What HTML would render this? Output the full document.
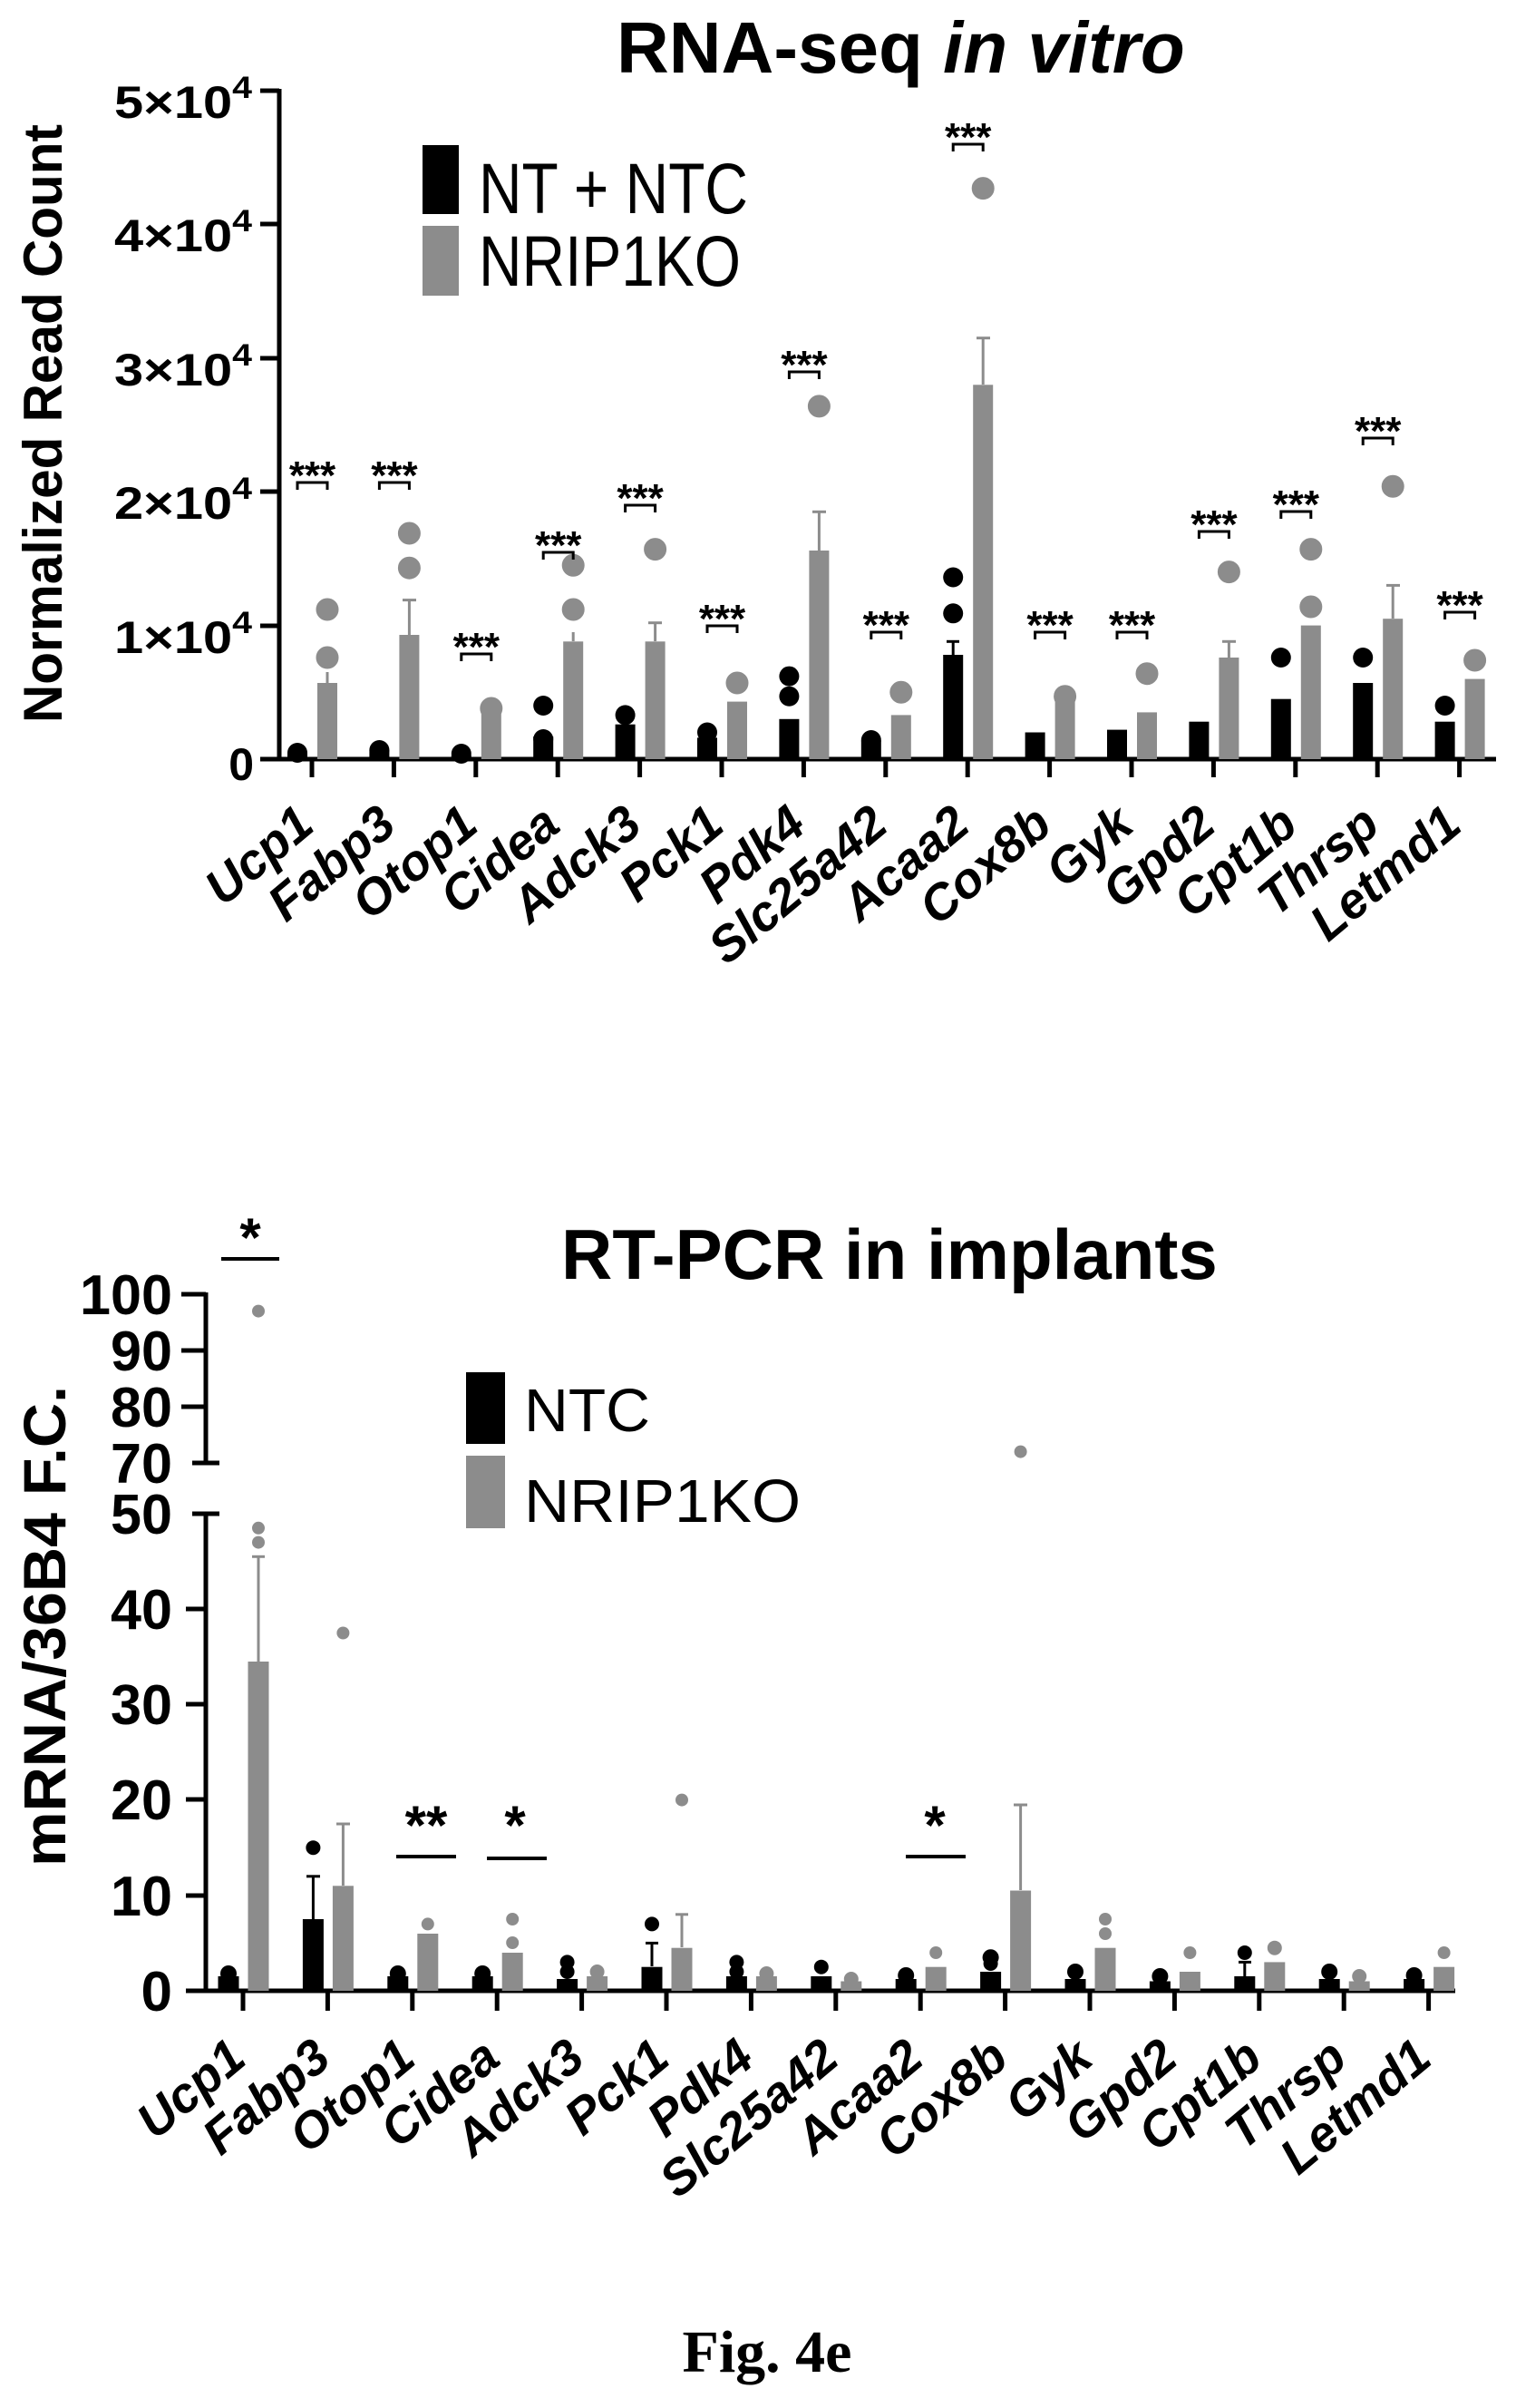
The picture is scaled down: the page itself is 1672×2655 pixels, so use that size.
<!DOCTYPE html>
<html><head><meta charset="utf-8"><style>
html,body{margin:0;padding:0;background:#fff;}
svg{display:block;}
text{font-family:"Liberation Sans",Arial,sans-serif;}
.b{font-weight:bold;}
.xl{font-weight:bold;font-style:italic;font-size:55px;text-anchor:end;}
.tk{font-weight:bold;font-size:50px;text-anchor:end;}
.tk2{font-weight:bold;font-size:62px;text-anchor:end;}
.st{font-weight:bold;font-size:44px;text-anchor:middle;}
.st2{font-weight:bold;font-size:60px;text-anchor:middle;}
</style></head><body>
<svg width="1672" height="2655" viewBox="0 0 1672 2655" xmlns="http://www.w3.org/2000/svg">
<rect width="1672" height="2655" fill="#fff"/>

<!-- ================= TOP CHART ================= -->
<text x="680" y="80" class="b" font-size="80">RNA-seq <tspan font-style="italic">in vitro</tspan></text>
<text transform="translate(68,467) rotate(-90)" class="b" font-size="60" text-anchor="middle" textLength="660" lengthAdjust="spacingAndGlyphs">Normalized Read Count</text>

<!-- y axis -->
<g stroke="#000" stroke-width="5" fill="none">
<line x1="308" y1="98" x2="308" y2="839"/>
<line x1="287" y1="100" x2="308" y2="100"/>
<line x1="287" y1="247" x2="308" y2="247"/>
<line x1="287" y1="395" x2="308" y2="395"/>
<line x1="287" y1="542" x2="308" y2="542"/>
<line x1="287" y1="690" x2="308" y2="690"/>
<line x1="287" y1="837" x2="1650" y2="837"/>
</g>
<g>
<text x="278" y="130" class="tk" textLength="152" lengthAdjust="spacingAndGlyphs">5×10<tspan dy="-22" font-size="34">4</tspan></text>
<text x="278" y="277" class="tk" textLength="152" lengthAdjust="spacingAndGlyphs">4×10<tspan dy="-22" font-size="34">4</tspan></text>
<text x="278" y="425" class="tk" textLength="152" lengthAdjust="spacingAndGlyphs">3×10<tspan dy="-22" font-size="34">4</tspan></text>
<text x="278" y="572" class="tk" textLength="152" lengthAdjust="spacingAndGlyphs">2×10<tspan dy="-22" font-size="34">4</tspan></text>
<text x="278" y="720" class="tk" textLength="152" lengthAdjust="spacingAndGlyphs">1×10<tspan dy="-22" font-size="34">4</tspan></text>
<text x="280" y="860" class="tk">0</text>
</g>
<!-- x ticks -->
<g stroke="#000" stroke-width="5">
<line x1="344" y1="837" x2="344" y2="857"/><line x1="434.4" y1="837" x2="434.4" y2="857"/><line x1="524.8" y1="837" x2="524.8" y2="857"/><line x1="615.2" y1="837" x2="615.2" y2="857"/><line x1="705.6" y1="837" x2="705.6" y2="857"/><line x1="796" y1="837" x2="796" y2="857"/><line x1="886.4" y1="837" x2="886.4" y2="857"/><line x1="976.8" y1="837" x2="976.8" y2="857"/><line x1="1067.2" y1="837" x2="1067.2" y2="857"/><line x1="1157.6" y1="837" x2="1157.6" y2="857"/><line x1="1248" y1="837" x2="1248" y2="857"/><line x1="1338.4" y1="837" x2="1338.4" y2="857"/><line x1="1428.8" y1="837" x2="1428.8" y2="857"/><line x1="1519.2" y1="837" x2="1519.2" y2="857"/><line x1="1609.6" y1="837" x2="1609.6" y2="857"/>
</g>

<!-- legend -->
<rect x="466" y="160" width="40" height="76" fill="#000"/>
<rect x="466" y="249" width="40" height="77" fill="#8c8c8c"/>
<text x="528" y="235" font-size="79" textLength="297" lengthAdjust="spacingAndGlyphs">NT + NTC</text>
<text x="528" y="315" font-size="79" textLength="289" lengthAdjust="spacingAndGlyphs">NRIP1KO</text>

<!-- black bars -->
<g fill="#000">
<rect x="317" y="829.6" width="22" height="7.4"/><circle cx="328" cy="830" r="11"/>
<rect x="407.4" y="826.7" width="22" height="10.3"/><circle cx="418.4" cy="827" r="11"/>
<rect x="497.8" y="832.6" width="22" height="4.4"/><circle cx="508.8" cy="831" r="11"/>
<rect x="588.2" y="812" width="22" height="25"/><circle cx="599.2" cy="778" r="11"/><circle cx="599.2" cy="815" r="11"/>
<rect x="678.6" y="798.7" width="22" height="38.3"/><circle cx="689.6" cy="788.4" r="11"/>
<rect x="769" y="813.4" width="22" height="23.6"/><circle cx="780" cy="807.5" r="11"/>
<rect x="859.4" y="792.8" width="22" height="44.2"/><circle cx="870.4" cy="745.6" r="11"/><circle cx="870.4" cy="767.7" r="11"/>
<rect x="949.8" y="816.4" width="22" height="20.6"/><circle cx="960.8" cy="816" r="11"/>
<rect x="1040.2" y="722" width="22" height="115"/><line x1="1051.2" y1="707.3" x2="1051.2" y2="722" stroke="#000" stroke-width="3"/><line x1="1044" y1="707.3" x2="1058" y2="707.3" stroke="#000" stroke-width="3"/><circle cx="1051.2" cy="636.5" r="11"/><circle cx="1051.2" cy="676.3" r="11"/>
<rect x="1130.6" y="807.5" width="22" height="29.5"/>
<rect x="1221" y="804.6" width="22" height="32.4"/>
<rect x="1311.4" y="795.7" width="22" height="41.3"/>
<rect x="1401.8" y="770.7" width="22" height="66.3"/><circle cx="1412.8" cy="725" r="11"/>
<rect x="1492.2" y="753" width="22" height="84"/><circle cx="1503.2" cy="725" r="11"/>
<rect x="1582.6" y="795.7" width="22" height="41.3"/><circle cx="1593.6" cy="778" r="11"/>
</g>
<!-- gray bars -->
<g fill="#8c8c8c" stroke="#8c8c8c" stroke-width="3">
<rect x="350" y="753" width="22" height="84" stroke="none"/><line x1="361" y1="741" x2="361" y2="753"/><circle cx="361" cy="672" r="11"/><circle cx="361" cy="725" r="11"/>
<rect x="440.4" y="700" width="22" height="137" stroke="none"/><line x1="451.4" y1="661.6" x2="451.4" y2="700"/><line x1="444" y1="661.6" x2="459" y2="661.6"/><circle cx="451.4" cy="588" r="11"/><circle cx="451.4" cy="626.2" r="11"/>
<rect x="530.8" y="785.4" width="22" height="51.6" stroke="none"/><circle cx="541.8" cy="781" r="11"/>
<rect x="621.2" y="707.3" width="22" height="129.7" stroke="none"/><line x1="632.2" y1="697" x2="632.2" y2="707"/><circle cx="632.2" cy="623.3" r="11"/><circle cx="632.2" cy="672" r="11"/>
<rect x="711.6" y="707.3" width="22" height="129.7" stroke="none"/><line x1="722.6" y1="686.7" x2="722.6" y2="707"/><line x1="715" y1="686.7" x2="730" y2="686.7"/><circle cx="722.6" cy="605.6" r="11"/>
<rect x="802" y="773.6" width="22" height="63.4" stroke="none"/><circle cx="813" cy="753" r="11"/>
<rect x="892.4" y="607" width="22" height="230" stroke="none"/><line x1="903.4" y1="564.3" x2="903.4" y2="607"/><line x1="896" y1="564.3" x2="911" y2="564.3"/><circle cx="903.4" cy="447.9" r="11"/>
<rect x="982.8" y="788.4" width="22" height="48.6" stroke="none"/><circle cx="993.8" cy="763.3" r="11"/>
<rect x="1073.2" y="424.3" width="22" height="412.7" stroke="none"/><line x1="1084.2" y1="372.7" x2="1084.2" y2="424"/><line x1="1077" y1="372.7" x2="1092" y2="372.7"/><circle cx="1084.2" cy="207.6" r="11"/>
<rect x="1163.6" y="770.7" width="22" height="66.3" stroke="none"/><circle cx="1174.6" cy="767.7" r="11"/>
<rect x="1254" y="785.4" width="22" height="51.6" stroke="none"/><circle cx="1265" cy="742.7" r="11"/>
<rect x="1344.4" y="725" width="22" height="112" stroke="none"/><line x1="1355.4" y1="707.3" x2="1355.4" y2="725"/><line x1="1348" y1="707.3" x2="1363" y2="707.3"/><circle cx="1355.4" cy="630.6" r="11"/>
<rect x="1434.8" y="689.6" width="22" height="147.4" stroke="none"/><circle cx="1445.8" cy="605.6" r="11"/><circle cx="1445.8" cy="669" r="11"/>
<rect x="1525.2" y="682.2" width="22" height="154.8" stroke="none"/><line x1="1536.2" y1="645.4" x2="1536.2" y2="682"/><line x1="1529" y1="645.4" x2="1544" y2="645.4"/><circle cx="1536.2" cy="536.3" r="11"/>
<rect x="1615.6" y="748.6" width="22" height="88.4" stroke="none"/><circle cx="1626.6" cy="728" r="11"/>
</g>

<!-- brackets -->
<g stroke="#000" stroke-width="3" fill="none">
<path d="M328,540 V532 H361 V540"/>
<path d="M418.4,540 V532 H451.4 V540"/>
<path d="M508.8,729 V721 H541.8 V729"/>
<path d="M599.2,617 V609 H632.2 V617"/>
<path d="M689.6,565 V557 H722.6 V565"/>
<path d="M780,698 V690 H813 V698"/>
<path d="M870.4,418 V410 H903.4 V418"/>
<path d="M960.8,705 V697 H993.8 V705"/>
<path d="M1051.2,167 V159 H1084.2 V167"/>
<path d="M1141.6,705 V697 H1174.6 V705"/>
<path d="M1232,705 V697 H1265 V705"/>
<path d="M1322.4,594 V586 H1355.4 V594"/>
<path d="M1412.8,572 V564 H1445.8 V572"/>
<path d="M1503.2,491 V483 H1536.2 V491"/>
<path d="M1593.6,683 V675 H1626.6 V683"/>
</g>
<g>
<text x="344.5" y="539" class="st">***</text>
<text x="434.9" y="539" class="st">***</text>
<text x="525.3" y="728" class="st">***</text>
<text x="615.7" y="616" class="st">***</text>
<text x="706.1" y="564" class="st">***</text>
<text x="796.5" y="697" class="st">***</text>
<text x="886.9" y="417" class="st">***</text>
<text x="977.3" y="704" class="st">***</text>
<text x="1067.7" y="166" class="st">***</text>
<text x="1158.1" y="704" class="st">***</text>
<text x="1248.5" y="704" class="st">***</text>
<text x="1338.9" y="593" class="st">***</text>
<text x="1429.3" y="571" class="st">***</text>
<text x="1519.7" y="490" class="st">***</text>
<text x="1610.1" y="682" class="st">***</text>
</g>

<!-- x labels top -->
<text class="xl" transform="translate(349,914) rotate(-40)">Ucp1</text>
<text class="xl" transform="translate(439.4,914) rotate(-40)">Fabp3</text>
<text class="xl" transform="translate(529.8,914) rotate(-40)">Otop1</text>
<text class="xl" transform="translate(620.2,914) rotate(-40)">Cidea</text>
<text class="xl" transform="translate(710.6,914) rotate(-40)">Adck3</text>
<text class="xl" transform="translate(801,914) rotate(-40)">Pck1</text>
<text class="xl" transform="translate(891.4,914) rotate(-40)">Pdk4</text>
<text class="xl" transform="translate(981.8,914) rotate(-40)">Slc25a42</text>
<text class="xl" transform="translate(1072.2,914) rotate(-40)">Acaa2</text>
<text class="xl" transform="translate(1162.6,914) rotate(-40)">Cox8b</text>
<text class="xl" transform="translate(1253,914) rotate(-40)">Gyk</text>
<text class="xl" transform="translate(1343.4,914) rotate(-40)">Gpd2</text>
<text class="xl" transform="translate(1433.8,914) rotate(-40)">Cpt1b</text>
<text class="xl" transform="translate(1524.2,914) rotate(-40)">Thrsp</text>
<text class="xl" transform="translate(1614.6,914) rotate(-40)">Letmd1</text>

<!-- ================= BOTTOM CHART ================= -->
<text x="619" y="1410" class="b" font-size="78">RT-PCR in implants</text>
<text transform="translate(72,1793) rotate(-90)" class="b" font-size="66" text-anchor="middle" textLength="530" lengthAdjust="spacingAndGlyphs">mRNA/36B4 F.C.</text>

<g stroke="#000" stroke-width="5" fill="none">
<line x1="227" y1="1425" x2="227" y2="1613"/>
<line x1="200" y1="1427" x2="227" y2="1427"/>
<line x1="200" y1="1489" x2="227" y2="1489"/>
<line x1="200" y1="1551" x2="227" y2="1551"/>
<line x1="212" y1="1613" x2="242" y2="1613"/>
<line x1="227" y1="1669" x2="227" y2="2197"/>
<line x1="212" y1="1669" x2="242" y2="1669"/>
<line x1="205" y1="1774" x2="227" y2="1774"/>
<line x1="205" y1="1879" x2="227" y2="1879"/>
<line x1="205" y1="1984" x2="227" y2="1984"/>
<line x1="205" y1="2090" x2="227" y2="2090"/>
<line x1="205" y1="2195" x2="1605" y2="2195"/>
</g>
<g>
<text x="190" y="1449" class="tk2" textLength="102" lengthAdjust="spacingAndGlyphs">100</text>
<text x="190" y="1511" class="tk2" textLength="68" lengthAdjust="spacingAndGlyphs">90</text>
<text x="190" y="1573" class="tk2" textLength="68" lengthAdjust="spacingAndGlyphs">80</text>
<text x="190" y="1635" class="tk2" textLength="68" lengthAdjust="spacingAndGlyphs">70</text>
<text x="190" y="1691" class="tk2" textLength="68" lengthAdjust="spacingAndGlyphs">50</text>
<text x="190" y="1796" class="tk2" textLength="68" lengthAdjust="spacingAndGlyphs">40</text>
<text x="190" y="1901" class="tk2" textLength="68" lengthAdjust="spacingAndGlyphs">30</text>
<text x="190" y="2006" class="tk2" textLength="68" lengthAdjust="spacingAndGlyphs">20</text>
<text x="190" y="2112" class="tk2" textLength="68" lengthAdjust="spacingAndGlyphs">10</text>
<text x="190" y="2217" class="tk2">0</text>
</g>
<g stroke="#000" stroke-width="5">
<line x1="268" y1="2195" x2="268" y2="2217"/><line x1="361.4" y1="2195" x2="361.4" y2="2217"/><line x1="454.8" y1="2195" x2="454.8" y2="2217"/><line x1="548.2" y1="2195" x2="548.2" y2="2217"/><line x1="641.6" y1="2195" x2="641.6" y2="2217"/><line x1="735" y1="2195" x2="735" y2="2217"/><line x1="828.4" y1="2195" x2="828.4" y2="2217"/><line x1="921.8" y1="2195" x2="921.8" y2="2217"/><line x1="1015.2" y1="2195" x2="1015.2" y2="2217"/><line x1="1108.6" y1="2195" x2="1108.6" y2="2217"/><line x1="1202" y1="2195" x2="1202" y2="2217"/><line x1="1295.4" y1="2195" x2="1295.4" y2="2217"/><line x1="1388.8" y1="2195" x2="1388.8" y2="2217"/><line x1="1482.2" y1="2195" x2="1482.2" y2="2217"/><line x1="1575.6" y1="2195" x2="1575.6" y2="2217"/>
</g>

<!-- legend -->
<rect x="514" y="1513" width="43" height="79" fill="#000"/>
<rect x="514" y="1605" width="43" height="80" fill="#8c8c8c"/>
<text x="578" y="1578" font-size="67" textLength="139" lengthAdjust="spacingAndGlyphs">NTC</text>
<text x="578" y="1678" font-size="67" textLength="305" lengthAdjust="spacingAndGlyphs">NRIP1KO</text>

<!-- black bars bottom -->
<g fill="#000" stroke="#000" stroke-width="3">
<rect x="240.5" y="2179" width="23" height="16" stroke="none"/><circle cx="252" cy="2176" r="9" stroke="none"/>
<rect x="333.9" y="2116" width="23" height="79" stroke="none"/><line x1="345.4" y1="2068.8" x2="345.4" y2="2116"/><line x1="338" y1="2068.8" x2="353" y2="2068.8"/><circle cx="345.4" cy="2037.2" r="8" stroke="none"/>
<rect x="427.3" y="2179" width="23" height="16" stroke="none"/><circle cx="438.8" cy="2176" r="9" stroke="none"/>
<rect x="520.7" y="2179" width="23" height="16" stroke="none"/><circle cx="532.2" cy="2176" r="9" stroke="none"/>
<rect x="614.1" y="2182" width="23" height="13" stroke="none"/><circle cx="625.6" cy="2163.4" r="8" stroke="none"/><circle cx="625.6" cy="2174" r="8" stroke="none"/>
<rect x="707.5" y="2168.7" width="23" height="26.3" stroke="none"/><line x1="719" y1="2142.4" x2="719" y2="2168"/><line x1="712" y1="2142.4" x2="726" y2="2142.4"/><circle cx="719" cy="2121.4" r="8" stroke="none"/>
<rect x="800.9" y="2179" width="23" height="16" stroke="none"/><circle cx="812.4" cy="2163.4" r="8" stroke="none"/><circle cx="812.4" cy="2174" r="8" stroke="none"/>
<rect x="894.3" y="2179" width="23" height="16" stroke="none"/><circle cx="905.8" cy="2168.7" r="8" stroke="none"/>
<rect x="987.7" y="2182" width="23" height="13" stroke="none"/><circle cx="999.2" cy="2178" r="9" stroke="none"/>
<rect x="1081.1" y="2174" width="23" height="21" stroke="none"/><circle cx="1092.6" cy="2158.2" r="9" stroke="none"/><circle cx="1092.6" cy="2165" r="8" stroke="none"/>
<rect x="1174.5" y="2182" width="23" height="13" stroke="none"/><circle cx="1186" cy="2174" r="9" stroke="none"/>
<rect x="1267.9" y="2184.5" width="23" height="10.5" stroke="none"/><circle cx="1279.4" cy="2179" r="9" stroke="none"/>
<rect x="1361.3" y="2179" width="23" height="16" stroke="none"/><line x1="1372.8" y1="2163.4" x2="1372.8" y2="2179"/><line x1="1366" y1="2163.4" x2="1380" y2="2163.4"/><circle cx="1372.8" cy="2153" r="8" stroke="none"/>
<rect x="1454.7" y="2182" width="23" height="13" stroke="none"/><circle cx="1466.2" cy="2174" r="9" stroke="none"/>
<rect x="1548.1" y="2182" width="23" height="13" stroke="none"/><circle cx="1559.6" cy="2178" r="9" stroke="none"/>
</g>
<!-- gray bars bottom -->
<g fill="#8c8c8c" stroke="#8c8c8c" stroke-width="3">
<rect x="273.5" y="1832" width="23" height="363" stroke="none"/><line x1="285" y1="1716.3" x2="285" y2="1832"/><line x1="278" y1="1716.3" x2="292" y2="1716.3"/><circle cx="285" cy="1684.8" r="7" stroke="none"/><circle cx="285" cy="1700.6" r="7" stroke="none"/><circle cx="285" cy="1445.6" r="7" stroke="none"/>
<rect x="366.9" y="2079.3" width="23" height="115.7" stroke="none"/><line x1="378.4" y1="2011" x2="378.4" y2="2079"/><line x1="371" y1="2011" x2="386" y2="2011"/><circle cx="378.4" cy="1800.5" r="7" stroke="none"/>
<rect x="460.3" y="2132" width="23" height="63" stroke="none"/><circle cx="471.8" cy="2121.4" r="7" stroke="none"/>
<rect x="553.7" y="2153" width="23" height="42" stroke="none"/><circle cx="565.2" cy="2116" r="7" stroke="none"/><circle cx="565.2" cy="2142" r="7" stroke="none"/>
<rect x="647.1" y="2179" width="23" height="16" stroke="none"/><circle cx="658.6" cy="2174" r="8" stroke="none"/>
<rect x="740.5" y="2147.7" width="23" height="47.3" stroke="none"/><line x1="752" y1="2110.8" x2="752" y2="2147"/><line x1="745" y1="2110.8" x2="759" y2="2110.8"/><circle cx="752" cy="1984.6" r="7" stroke="none"/>
<rect x="833.9" y="2179" width="23" height="16" stroke="none"/><circle cx="845.4" cy="2176" r="8" stroke="none"/>
<rect x="927.3" y="2184.5" width="23" height="10.5" stroke="none"/><circle cx="938.8" cy="2182" r="8" stroke="none"/>
<rect x="1020.7" y="2168.7" width="23" height="26.3" stroke="none"/><circle cx="1032.2" cy="2153" r="7" stroke="none"/>
<rect x="1114.1" y="2084.5" width="23" height="110.5" stroke="none"/><line x1="1125.6" y1="1990" x2="1125.6" y2="2084"/><line x1="1118" y1="1990" x2="1133" y2="1990"/><circle cx="1125.6" cy="1600.6" r="7" stroke="none"/>
<rect x="1207.5" y="2147.7" width="23" height="47.3" stroke="none"/><circle cx="1219" cy="2116" r="7" stroke="none"/><circle cx="1219" cy="2132" r="7" stroke="none"/>
<rect x="1300.9" y="2174" width="23" height="21" stroke="none"/><circle cx="1312.4" cy="2153" r="7" stroke="none"/>
<rect x="1394.3" y="2163.4" width="23" height="31.6" stroke="none"/><circle cx="1405.8" cy="2147.7" r="8" stroke="none"/>
<rect x="1487.7" y="2184.5" width="23" height="10.5" stroke="none"/><circle cx="1499.2" cy="2179" r="8" stroke="none"/>
<rect x="1581.1" y="2168.7" width="23" height="26.3" stroke="none"/><circle cx="1592.6" cy="2153" r="7" stroke="none"/>
</g>

<!-- significance bottom -->
<g stroke="#000" stroke-width="4">
<line x1="244" y1="1388" x2="308" y2="1388"/>
<line x1="437" y1="2047" x2="503" y2="2047"/>
<line x1="537" y1="2049" x2="603" y2="2049"/>
<line x1="999" y1="2047" x2="1065" y2="2047"/>
</g>
<text x="276" y="1385" class="st2">*</text>
<text x="470" y="2033" class="st2">**</text>
<text x="568" y="2033" class="st2">*</text>
<text x="1031" y="2033" class="st2">*</text>

<!-- x labels bottom -->
<text class="xl" transform="translate(274,2274) rotate(-40)">Ucp1</text>
<text class="xl" transform="translate(367.4,2274) rotate(-40)">Fabp3</text>
<text class="xl" transform="translate(460.8,2274) rotate(-40)">Otop1</text>
<text class="xl" transform="translate(554.2,2274) rotate(-40)">Cidea</text>
<text class="xl" transform="translate(647.6,2274) rotate(-40)">Adck3</text>
<text class="xl" transform="translate(741,2274) rotate(-40)">Pck1</text>
<text class="xl" transform="translate(834.4,2274) rotate(-40)">Pdk4</text>
<text class="xl" transform="translate(927.8,2274) rotate(-40)">Slc25a42</text>
<text class="xl" transform="translate(1021.2,2274) rotate(-40)">Acaa2</text>
<text class="xl" transform="translate(1114.6,2274) rotate(-40)">Cox8b</text>
<text class="xl" transform="translate(1208,2274) rotate(-40)">Gyk</text>
<text class="xl" transform="translate(1301.4,2274) rotate(-40)">Gpd2</text>
<text class="xl" transform="translate(1394.8,2274) rotate(-40)">Cpt1b</text>
<text class="xl" transform="translate(1488.2,2274) rotate(-40)">Thrsp</text>
<text class="xl" transform="translate(1581.6,2274) rotate(-40)">Letmd1</text>

<text x="846" y="2615" style="font-family:'Liberation Serif',serif;font-weight:bold;font-size:66px" text-anchor="middle">Fig. 4e</text>
</svg>
</body></html>
